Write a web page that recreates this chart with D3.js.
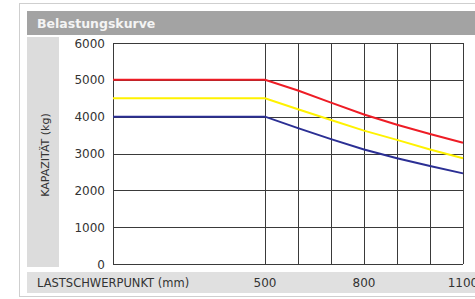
<!DOCTYPE html>
<html>
<head>
<meta charset="utf-8">
<script src="https://cdn.jsdelivr.net/npm/d3@7"></script>
<style>
  body { margin: 0; background: #fff; }
  svg { display: block; font-family: "DejaVu Sans", Verdana, sans-serif; }
</style>
</head>
<body>
<div id="chart"></div>
<script>
// Chart data
var lastschwerpunkt = [0, 500, 600, 700, 800, 900, 1000, 1100];
var kapazitaetRot = [5000, 5000, 4710, 4380, 4060, 3780, 3530, 3290];
var kapazitaetGelb = [4500, 4500, 4200, 3910, 3620, 3370, 3110, 2870];
var kapazitaetBlau = [4000, 4000, 3690, 3390, 3110, 2870, 2660, 2460];
var yTicks = [0, 1000, 2000, 3000, 4000, 5000, 6000];
var xGrid = [500, 600, 700, 800, 900, 1000, 1100];
var xTickLabels = [500, 800, 1100];

var svgWidth = 475;
var svgHeight = 299;

var svg = d3.select("#chart")
  .append("svg")
  .attr("width", svgWidth)
  .attr("height", svgHeight);

// Frame and panels
svg.append("rect")
  .attr("x", 19.5).attr("y", 3.5)
  .attr("width", 470).attr("height", 293)
  .attr("fill", "#fff")
  .attr("stroke", "#cfcfcf");

svg.append("rect")
  .attr("x", 27).attr("y", 11)
  .attr("width", 448).attr("height", 24)
  .attr("fill", "#a3a3a3");

svg.append("text")
  .attr("x", 37).attr("y", 28)
  .attr("fill", "#f4f4f4")
  .attr("font-size", "12.5px")
  .attr("font-weight", "bold")
  .text("Belastungskurve");

svg.append("rect")
  .attr("x", 27).attr("y", 37)
  .attr("width", 32).attr("height", 230)
  .attr("fill", "#dcdcdc");

svg.append("rect")
  .attr("x", 27).attr("y", 272)
  .attr("width", 448).attr("height", 21)
  .attr("fill", "#e0e0e0");

// Scales: the range left of 500 mm is compressed
var x = d3.scaleLinear()
  .domain([0, 500, 1100])
  .range([113, 265, 463]);

var y = d3.scaleLinear()
  .domain([0, 6000])
  .range([264, 43]);

var plot = svg.append("g");

// Horizontal grid
plot.selectAll(".hgrid")
  .data(yTicks)
  .enter()
  .append("line")
  .attr("x1", x(0)).attr("x2", x(1100))
  .attr("y1", d => Math.round(y(d)) + 0.5)
  .attr("y2", d => Math.round(y(d)) + 0.5)
  .attr("stroke", "#3a3a3a");

// Vertical grid
plot.selectAll(".vgrid")
  .data([0].concat(xGrid))
  .enter()
  .append("line")
  .attr("x1", d => Math.round(x(d)) + 0.5)
  .attr("x2", d => Math.round(x(d)) + 0.5)
  .attr("y1", y(6000)).attr("y2", y(0))
  .attr("stroke", "#3a3a3a");

// Y tick labels
svg.selectAll(".ylabel")
  .data(yTicks)
  .enter()
  .append("text")
  .attr("x", 105)
  .attr("y", d => y(d) + 4.5)
  .attr("text-anchor", "end")
  .attr("font-size", "12px")
  .attr("fill", "#333")
  .text(d => d);

// X tick labels
svg.selectAll(".xlabel")
  .data(xTickLabels)
  .enter()
  .append("text")
  .attr("x", d => x(d))
  .attr("y", 287)
  .attr("text-anchor", "middle")
  .attr("font-size", "12px")
  .attr("fill", "#333")
  .text(d => d);

// Axis titles
svg.append("text")
  .attr("x", 37).attr("y", 287)
  .attr("font-size", "11.5px")
  .attr("fill", "#333")
  .text("LASTSCHWERPUNKT (mm)");

svg.append("text")
  .attr("transform", "translate(49, 155) rotate(-90)")
  .attr("text-anchor", "middle")
  .attr("font-size", "11px")
  .attr("fill", "#333")
  .text("KAPAZITÄT (kg)");

// Load curves
var line = d3.line()
  .x((d, i) => x(lastschwerpunkt[i]))
  .y(d => y(d));

var series = [
  { values: kapazitaetBlau, color: "#2b2f94" },
  { values: kapazitaetGelb, color: "#fff200" },
  { values: kapazitaetRot, color: "#ee1c25" }
];

plot.selectAll(".curve")
  .data(series)
  .enter()
  .append("path")
  .attr("d", d => line(d.values))
  .attr("fill", "none")
  .attr("stroke", d => d.color)
  .attr("stroke-width", 2);
</script>
</body>
</html>
